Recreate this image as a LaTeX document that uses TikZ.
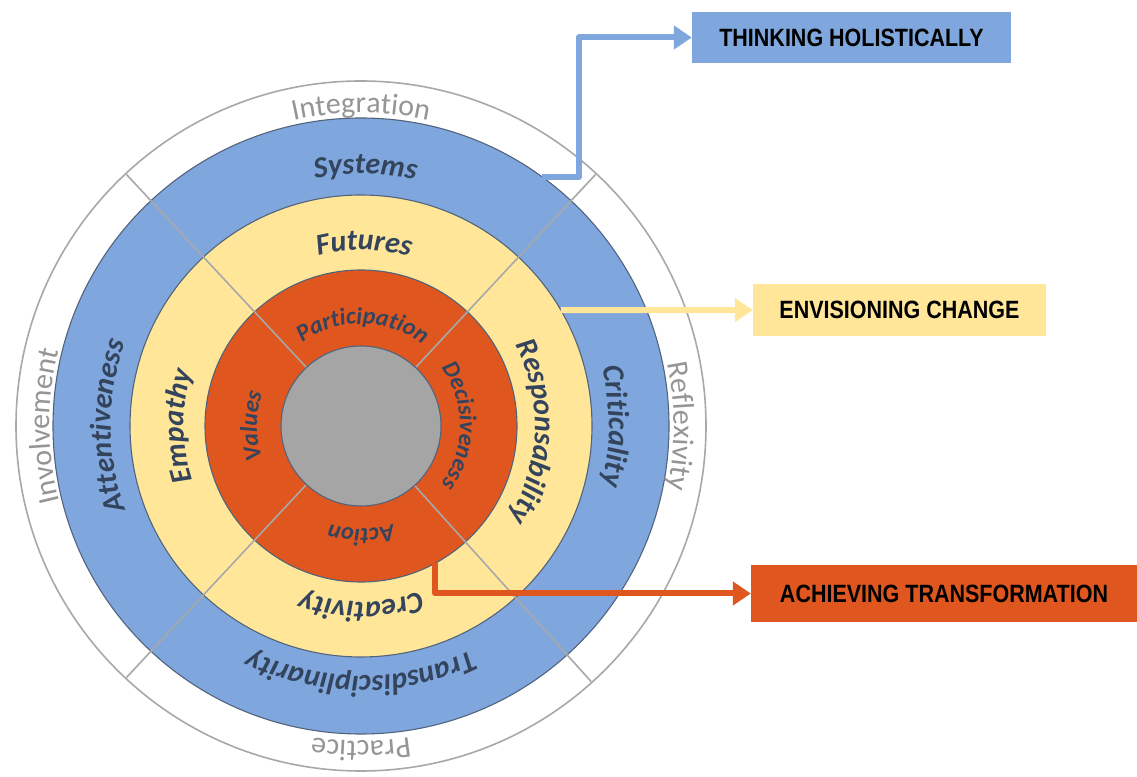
\documentclass[tikz,border=0pt]{standalone}
\usepackage{fontspec}
\usetikzlibrary{arrows.meta,calc,decorations.text}

\newfontfamily\calib{Carlito}
\newfontfamily\boxfont[FakeStretch=0.86]{Liberation Sans}

\definecolor{ringblue}{HTML}{7FA7DD}
\definecolor{ringyellow}{HTML}{FFE699}
\definecolor{ringorange}{HTML}{E0561F}
\definecolor{ringcore}{HTML}{A5A5A5}
\definecolor{ringedge}{HTML}{52637C}
\definecolor{divider}{HTML}{A8A8A8}
\definecolor{lbl}{HTML}{33445C}
\definecolor{outerlbl}{HTML}{959595}

% character formats for the labels that follow the rings
\newcommand\wfmt{\calib\fontsize{30}{36}\selectfont\color{outerlbl}}
\newcommand\bfmt{\calib\fontsize{30}{36}\selectfont\bfseries\itshape\color{lbl}}
\newcommand\ofmt{\calib\fontsize{24}{28}\selectfont\bfseries\itshape\color{lbl}}

% #1 centre angle, #2 baseline radius, #3 half span, #4 format, #5 text
% the arc runs clockwise, so the letters stand with their tops outward
\newcommand\ringlabel[5]{%
  \path[decorate,decoration={text along path,text align=center,text={|#4|#5}}]
    ([shift={({#1+#3}:#2)}]C) arc[start angle={#1+#3}, end angle={#1-#3}, radius=#2];}

\tikzset{
  ring/.style={draw=ringedge, line width=1.1pt},
  outcome/.style={inner sep=0pt, font=\boxfont\bfseries\fontsize{25}{28}\selectfont, text=black},
  flow/.style={line width=6pt, line join=round, -{Triangle[length=18pt,width=23pt]}}
}

\begin{document}
\begin{tikzpicture}[x=1pt,y=1pt]
\useasboundingbox (0,0) rectangle (1137,776);
\coordinate (C) at (361,350);

% concentric rings
\draw[divider, line width=1.6pt, fill=white] (C) circle[radius=345];
\fill[ringblue] (C) circle[radius=308];
\draw[ring] (C) circle[radius=308];
\fill[ringyellow] (C) circle[radius=231];
\draw[ring] (C) circle[radius=231];
\fill[ringorange] (C) circle[radius=156];
\draw[ring] (C) circle[radius=156];

% quadrant dividers
\foreach \a in {47,133,227,312}
  \draw[divider, line width=1.6pt] ([shift={(\a:80)}]C) -- ([shift={(\a:344)}]C);

% core
\fill[ringcore] (C) circle[radius=80];
\draw[ring] (C) circle[radius=80];

% outer ring
\ringlabel{90}{313}{60}{\wfmt}{Integration}
\ringlabel{0}{313}{60}{\wfmt}{Reflexivity}
\ringlabel{270}{315}{60}{\wfmt}{Practice}
\ringlabel{180}{311}{60}{\wfmt}{Involvement}

% blue ring
\ringlabel{89}{252}{60}{\bfmt}{Systems}
\ringlabel{0}{248}{60}{\bfmt}{Criticality}
\ringlabel{270}{250}{60}{\bfmt}{Transdisciplinarity}
\ringlabel{180}{250}{60}{\bfmt}{Attentiveness}

% yellow ring
\ringlabel{89}{176}{70}{\bfmt}{Futures}
\ringlabel{-2}{174}{70}{\bfmt}{Responsability}
\ringlabel{270}{176}{70}{\bfmt}{Creativity}
\ringlabel{180}{177}{70}{\bfmt}{Empathy}

% orange ring
\ringlabel{89}{102}{80}{\ofmt}{Participation}
\ringlabel{0}{99}{80}{\ofmt}{Decisiveness}
\ringlabel{270}{103}{80}{\ofmt}{Action}
\ringlabel{180}{104}{80}{\ofmt}{Values}

% outcomes
\node[outcome, fill=ringblue, minimum width=319pt, minimum height=51pt] (think) at (851.5,738.5) {THINKING HOLISTICALLY};
\node[outcome, fill=ringyellow, minimum width=293pt, minimum height=52pt] (envision) at (899.5,466) {ENVISIONING CHANGE};
\node[outcome, fill=ringorange, minimum width=386pt, minimum height=57pt] (achieve) at (944,182.5) {ACHIEVING TRANSFORMATION};

% connectors from the rings to the outcomes
\coordinate (sysEdge) at ([shift={(54:308)}]C);
\coordinate (futEdge) at ([shift={(30.1:231)}]C);
\coordinate (actEdge) at ([shift={(-61.6:156)}]C);

\draw[flow, ringblue] (sysEdge) -- ++(37,0) |- (think.west);
\draw[flow, ringyellow] (futEdge) -- (envision.west);
\draw[flow, ringorange] (actEdge) |- (achieve.west);
\end{tikzpicture}
\end{document}
